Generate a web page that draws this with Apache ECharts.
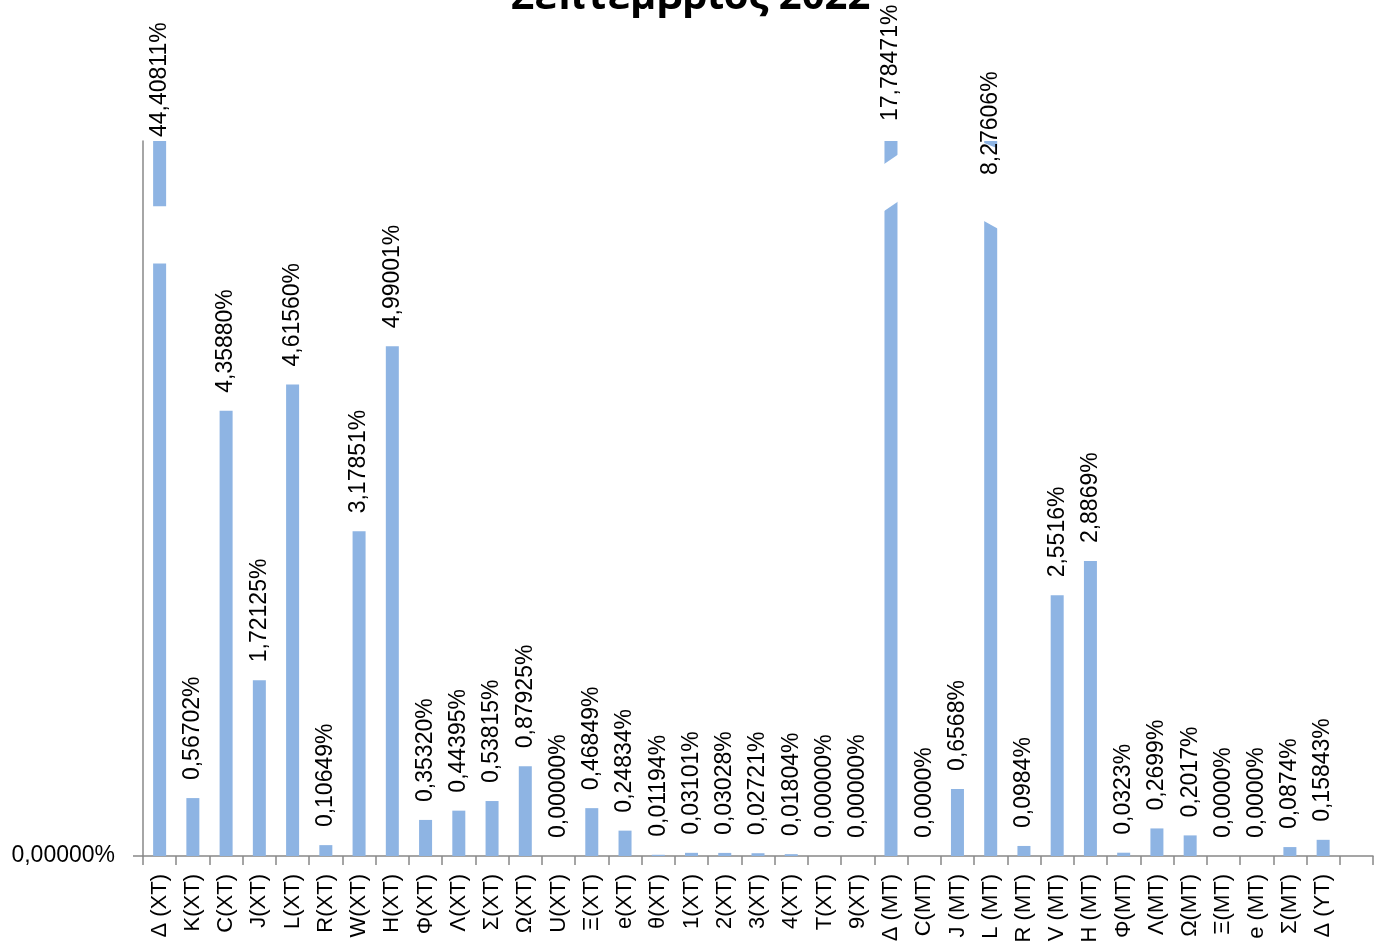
<!DOCTYPE html>
<html>
<head>
<meta charset="utf-8">
<script src="https://cdn.jsdelivr.net/npm/echarts@6/dist/echarts.min.js"></script>
<style>
html,body{margin:0;padding:0;background:#fff;overflow:hidden;}
#chart{width:1381px;height:943px;}
</style>
</head>
<body>
<div id="chart"></div>
<script>
const titleText = 'Σεπτέμβριος 2022';
const categories = ['Δ (XT)','K(XT)','C(XT)','J(XT)','L(XT)','R(XT)','W(XT)','H(XT)','Φ(XT)','Λ(XT)','Σ(XT)','Ω(XT)','U(XT)','Ξ(XT)','e(XT)','θ(XT)','1(XT)','2(XT)','3(XT)','4(XT)','T(XT)','9(XT)',
  'Δ (MT)','C(MT)','J (MT)','L (MT)','R (MT)','V (MT)','H (MT)','Φ(MT)','Λ(MT)','Ω(MT)','Ξ(MT)','e (MT)','Σ(MT)','Δ (YT)',''];
const values = [44.40811,0.56702,4.35880,1.72125,4.61560,0.10649,3.17851,4.99001,0.35320,0.44395,0.53815,0.87925,0.00000,0.46849,0.24834,0.01194,0.03101,0.03028,0.02721,0.01804,0.00000,0.00000,
  17.78471,0.0000,0.6568,8.27606,0.0984,2.5516,2.8869,0.0323,0.2699,0.2017,0.0000,0.0000,0.0874,0.15843,null];
const decimals = [5,5,5,5,5,5,5,5,5,5,5,5,5,5,5,5,5,5,5,5,5,5,
  5,4,4,5,4,4,4,4,4,4,4,4,4,5,0];
const yTickLabels = [0];
const yMax = 7;

function fmt(v, d){ return v.toFixed(d).replace('.', ',') + '%'; }

// per-bar label placement tweaks (in code, not data)
const labelDistance = {0: 4, 22: 20, 25: -34};
// break decorations on bars that exceed the axis maximum: [topLeft, topRight, bottomLeft, bottomRight] in value units
const breakShapes = {
  0: [6.36, 6.36, 5.80, 5.80],
  22: [6.76, 6.88, 6.30, 6.42],
  25: [6.99, 6.92, 6.23, 6.13]
};

const barData = values.map(v => v === null ? null : v);
const labelData = values.map((v, i) => {
  if (v === null) return null;
  const item = {value: v};
  if (labelDistance[i] !== undefined) item.label = {distance: labelDistance[i]};
  return item;
});
const breakData = values.map((v, i) => (v !== null && v > yMax && breakShapes[i]) ? [i].concat(breakShapes[i]) : null).filter(Boolean);

const chart = echarts.init(document.getElementById('chart'));
chart.setOption({
  animation: false,
  backgroundColor: '#ffffff',
  title: {
    text: titleText,
    left: 'center',
    top: -27,
    textStyle: {fontFamily: 'Open Sans', fontWeight: 'bold', fontSize: 40, color: '#000'}
  },
  grid: {left: 143, right: 8, top: 141, bottom: 87, containLabel: false, outerBoundsMode: 'none'},
  xAxis: {
    type: 'category',
    data: categories,
    boundaryGap: true,
    axisLine: {lineStyle: {color: '#888888', width: 1.5}},
    axisTick: {show: true, length: 9, lineStyle: {color: '#888888', width: 1.5}},
    axisLabel: {rotate: 90, margin: 18, interval: 0, color: '#000', fontFamily: 'Liberation Sans', fontSize: 22}
  },
  yAxis: {
    type: 'value',
    min: 0,
    max: yMax,
    interval: yMax,
    splitLine: {show: false},
    axisLine: {show: true, lineStyle: {color: '#888888', width: 1.5}},
    axisTick: {show: true, length: 10, customValues: yTickLabels, lineStyle: {color: '#888888', width: 1.5}},
    axisLabel: {customValues: yTickLabels, margin: 28, color: '#000', fontFamily: 'Liberation Sans', fontSize: 23,
      formatter: v => fmt(v, 5)}
  },
  series: [{
    type: 'bar',
    data: barData,
    barWidth: 13,
    barGap: '-100%',
    clip: true,
    z: 2,
    itemStyle: {color: '#8eb4e3'}
  }, {
    type: 'custom',
    data: breakData,
    silent: true,
    z: 3,
    renderItem: function(params, api){
      const idx = api.value(0);
      const half = 9;
      const tl = api.coord([idx, api.value(1)]);
      const tr = api.coord([idx, api.value(2)]);
      const bl = api.coord([idx, api.value(3)]);
      const br = api.coord([idx, api.value(4)]);
      return {
        type: 'polygon',
        shape: {points: [[tl[0]-half, tl[1]], [tr[0]+half, tr[1]], [br[0]+half, br[1]], [bl[0]-half, bl[1]]]},
        style: {fill: '#ffffff'}
      };
    }
  }, {
    type: 'bar',
    data: labelData,
    barWidth: 13,
    barGap: '-100%',
    clip: true,
    z: 4,
    silent: true,
    itemStyle: {color: 'rgba(0,0,0,0)'},
    label: {
      show: true,
      position: 'top',
      rotate: 90,
      align: 'left',
      verticalAlign: 'middle',
      distance: 18,
      color: '#000',
      fontFamily: 'Liberation Sans',
      fontSize: 23,
      formatter: p => fmt(p.value, decimals[p.dataIndex])
    }
  }]
});
</script>
</body>
</html>
